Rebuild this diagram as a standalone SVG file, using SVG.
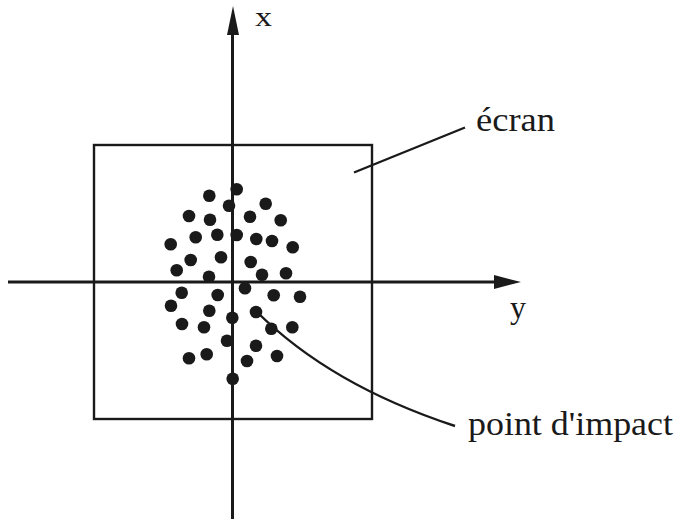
<svg xmlns="http://www.w3.org/2000/svg" width="677" height="521" viewBox="0 0 677 521">
<defs>
<style>
.ax{stroke:#1a1a1a;stroke-width:3;fill:none}
.ln{stroke:#1a1a1a;stroke-width:2.4;fill:none}
.hd{fill:#1a1a1a}
.dt{fill:#1a1a1a}
.lb{font-family:"Liberation Serif","Times New Roman",serif;fill:#1a1a1a}
</style>
</defs>
<rect width="677" height="521" fill="#fff"/>
<g id="ecran-box">
<rect x="94" y="145" width="278" height="274" class="ln"/>
</g>
<g id="axes">
<line x1="232.5" y1="519" x2="232.5" y2="30" class="ax"/>
<polygon points="233,6 239,35 227,35" class="hd"/>
<line x1="8" y1="282" x2="498" y2="282" class="ax"/>
<polygon points="521,282 494,275 494,289" class="hd"/>
<text x="255" y="26" class="lb" font-size="28" textLength="17" lengthAdjust="spacingAndGlyphs">x</text>
<text x="510" y="318" class="lb" font-size="32">y</text>
</g>
<g id="points">
<circle cx="236.7" cy="189.3" r="6.3" class="dt"/>
<circle cx="209.3" cy="195.7" r="6.3" class="dt"/>
<circle cx="229" cy="205.7" r="6.3" class="dt"/>
<circle cx="265.7" cy="203.7" r="6.3" class="dt"/>
<circle cx="189" cy="216" r="6.3" class="dt"/>
<circle cx="210" cy="219.7" r="6.3" class="dt"/>
<circle cx="250" cy="216.7" r="6.3" class="dt"/>
<circle cx="280.7" cy="220.3" r="6.3" class="dt"/>
<circle cx="170.7" cy="244.3" r="6.3" class="dt"/>
<circle cx="195.7" cy="237.3" r="6.3" class="dt"/>
<circle cx="217.3" cy="234.7" r="6.3" class="dt"/>
<circle cx="236.7" cy="235" r="6.3" class="dt"/>
<circle cx="256.3" cy="239" r="6.3" class="dt"/>
<circle cx="272" cy="241" r="6.3" class="dt"/>
<circle cx="292.7" cy="247.3" r="6.3" class="dt"/>
<circle cx="190.7" cy="260" r="6.3" class="dt"/>
<circle cx="221" cy="257.3" r="6.3" class="dt"/>
<circle cx="250.7" cy="262" r="6.3" class="dt"/>
<circle cx="176.7" cy="270.3" r="6.3" class="dt"/>
<circle cx="209" cy="276.7" r="6.3" class="dt"/>
<circle cx="262" cy="274.7" r="6.3" class="dt"/>
<circle cx="286" cy="273.3" r="6.3" class="dt"/>
<circle cx="181.7" cy="292.7" r="6.3" class="dt"/>
<circle cx="217.7" cy="295" r="6.3" class="dt"/>
<circle cx="245" cy="288.3" r="6.3" class="dt"/>
<circle cx="273.7" cy="295.3" r="6.3" class="dt"/>
<circle cx="300" cy="296.7" r="6.3" class="dt"/>
<circle cx="171" cy="305.7" r="6.3" class="dt"/>
<circle cx="209.3" cy="310.7" r="6.3" class="dt"/>
<circle cx="232.3" cy="317.7" r="6.3" class="dt"/>
<circle cx="256" cy="312" r="6.3" class="dt"/>
<circle cx="182" cy="324" r="6.3" class="dt"/>
<circle cx="204" cy="327.3" r="6.3" class="dt"/>
<circle cx="271.3" cy="328.7" r="6.3" class="dt"/>
<circle cx="292.3" cy="327.3" r="6.3" class="dt"/>
<circle cx="227" cy="340.7" r="6.3" class="dt"/>
<circle cx="256" cy="345.7" r="6.3" class="dt"/>
<circle cx="189" cy="358.3" r="6.3" class="dt"/>
<circle cx="206.7" cy="354.3" r="6.3" class="dt"/>
<circle cx="247" cy="361" r="6.3" class="dt"/>
<circle cx="277" cy="356" r="6.3" class="dt"/>
<circle cx="232.7" cy="378.7" r="6.3" class="dt"/>
</g>
<g id="connectors">
<line x1="354" y1="172.5" x2="465" y2="127.5" class="ln" stroke-width="2.6"/>
<path d="M256,311 Q330,385 455,426" class="ln"/>
</g>
<g id="label-ecran">
<text x="476" y="131" class="lb" font-size="33" textLength="79" lengthAdjust="spacingAndGlyphs">écran</text>
</g>
<g id="label-impact">
<text x="468" y="435" class="lb" font-size="33" textLength="205" lengthAdjust="spacingAndGlyphs">point d'impact</text>
</g>
</svg>
